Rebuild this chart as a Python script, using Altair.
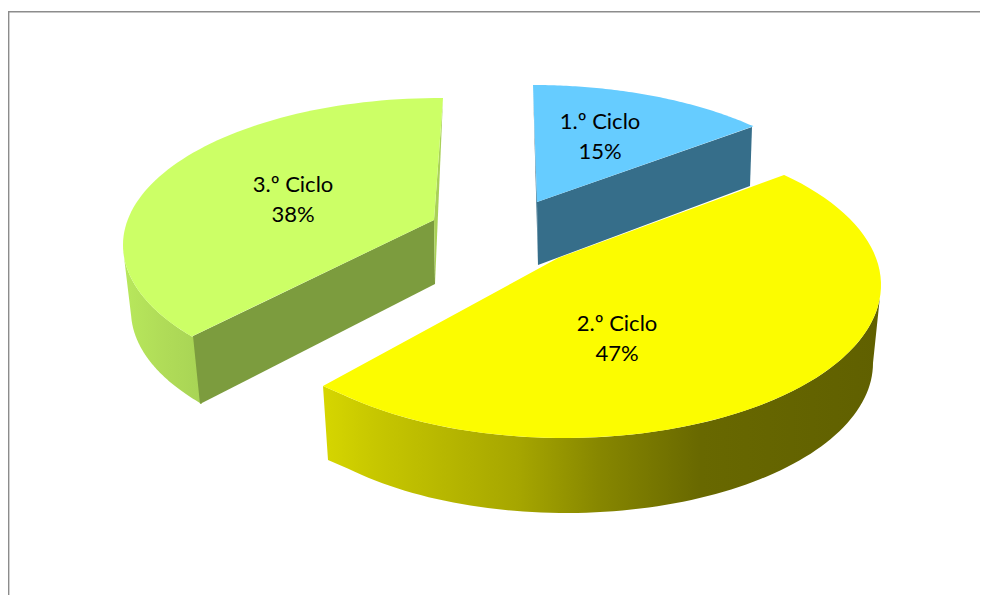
import math
import altair as alt
import pandas as pd

# data
categories = ["1.º Ciclo", "2.º Ciclo", "3.º Ciclo"]
shares = [15, 47, 38]

# view of the 3-D pie: pixel-like scene coordinates
def ell(c, t):
    cx, cy, rx, ry = c
    a = math.radians(t)
    return (cx + rx * math.cos(a), cy + ry * math.sin(a))

def arc(c, t0, t1, n=80):
    return [ell(c, t0 + (t1 - t0) * i / n) for i in range(n + 1)]

def ang(c, p):
    cx, cy, rx, ry = c
    return math.degrees(math.atan2((p[1] - cy) / ry, (p[0] - cx) / rx))

X = alt.X("x:Q", scale=alt.Scale(domain=[8, 980], nice=False, zero=False), axis=None)
Y = alt.Y("y:Q", scale=alt.Scale(domain=[595, 8], nice=False, zero=False), axis=None)

def poly(points, fill):
    pts = list(points) + [points[0]]
    df = pd.DataFrame({"x": [p[0] for p in pts], "y": [p[1] for p in pts], "i": range(len(pts))})
    return alt.Chart(df).mark_line(filled=True, fill=fill, strokeWidth=0, interpolate="linear").encode(
        x=X, y=Y, order="i:Q"
    )

def grad(stops):
    return alt.LinearGradient(
        gradient="linear", x1=0, x2=1, y1=0, y2=0,
        stops=[alt.GradientStop(offset=o, color=c) for o, c in stops],
    )

# 3.º Ciclo
g_top = (440, 245, 317, 147)
g_bot = (445, 311, 314, 147)
g_a, g_c, g_r = (434, 220), (193, 336), (443, 98.5)
g_b = (200, 404)
g_t0, g_t1 = ang(g_top, g_c), ang(g_top, g_r)
if g_t1 < g_t0:
    g_t1 += 360
g_left = 178
green = [
    poly([(g_c[0] + 2, g_c[1])] + arc(g_top, g_t0, g_left) + arc(g_bot, g_left, ang(g_bot, g_b)) + [(g_b[0] + 2, g_b[1])],
         grad([(0, "#b8e85c"), (0.5, "#b0dc58"), (1, "#a8d455")])),
    poly([g_a, g_c, g_b, (435, 284)], "#7c9c3e"),
    poly([g_r, g_a, (435, 284)], "#a9d158"),
    poly([g_a] + arc(g_top, g_t0, g_t1), "#ccff66"),
]

# 1.º Ciclo
b_top = (533, 232, 317, 147)
b_a, b_l, b_r = (537, 202), (533, 85), (752, 127)
blue = [
    poly([b_l, b_a, (538, 265)], "#366e8a"),
    poly([b_a, b_r, (750, 186), (538, 265)], "#366e8a"),
    poly([b_a] + arc(b_top, ang(b_top, b_l), ang(b_top, b_r)), "#66ccff"),
]

# 2.º Ciclo
y_top = (564, 285, 317, 153)
y_bot = (566, 363, 307, 150)
y_a, y_s, y_e = (558, 258), (784, 175), (323, 386)
y_f = (328, 460)
y_end = ang(y_top, y_e) - 5
y_end_b = ang(y_bot, y_f) - 5
yellow = [
    poly(arc(y_top, 5, y_end) + [y_e, y_f] + arc(y_bot, y_end_b, 0),
         grad([(0, "#d6d600"), (0.1, "#c6c600"), (0.35, "#a6a600"), (0.5, "#868600"), (0.68, "#686800"), (1, "#606000")])),
    poly([y_a, y_s] + arc(y_top, ang(y_top, y_s), y_end) + [y_e], "#fcfc00"),
]

# frame
frame = [
    poly([(8, 11), (980, 11), (980, 12.6), (8, 12.6)], "#8c8c8c"),
    poly([(8, 11), (9.4, 11), (9.4, 595), (8, 595)], "#8c8c8c"),
]

label_x = [600, 617, 293]
label_y = [122, 324, 185]
rows = []
for c, s, x, y in zip(categories, shares, label_x, label_y):
    rows.append({"x": x, "y": y, "t": c})
    rows.append({"x": x, "y": y + 30, "t": f"{s}%"})
labels = alt.Chart(pd.DataFrame(rows)).mark_text(
    font="Lato", fontSize=22, color="#000000", align="center", baseline="middle"
).encode(x=X, y=Y, text="t:N")

chart = alt.layer(*frame, *green, *blue, *yellow, labels).properties(
    width=972, height=587, padding=0, autosize=alt.AutoSizeParams(type="none"), background="white"
).configure_view(stroke=None)

chart.save("out.html", embed_options={"renderer": "svg", "actions": False})
